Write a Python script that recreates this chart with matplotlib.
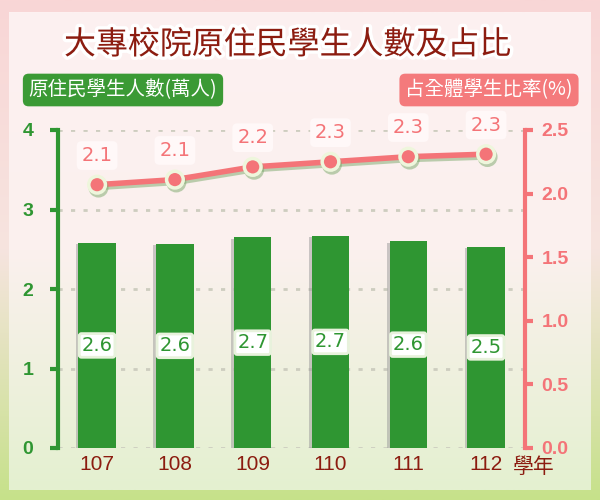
import numpy as np
import matplotlib
matplotlib.use("Agg")
import matplotlib.pyplot as plt
import matplotlib.patheffects as pe
from matplotlib.colors import LinearSegmentedColormap

plt.rcParams['font.family'] = ['Noto Sans CJK TC', 'DejaVu Sans']

years = ['107', '108', '109', '110', '111', '112']
students = [2.58, 2.57, 2.65, 2.67, 2.60, 2.53]   # 萬人
student_labels = ['2.6', '2.6', '2.7', '2.7', '2.6', '2.5']
ratio = [2.07, 2.11, 2.21, 2.25, 2.29, 2.31]      # %
ratio_labels = ['2.1', '2.1', '2.2', '2.3', '2.3', '2.3']

GREEN = '#2f9632'
PINK = '#f47478'
DARKRED = '#8c1c10'

fig = plt.figure(figsize=(6, 5), dpi=100)

# background: outer frame + inner panel, pink at top fading to green
bg = fig.add_axes([0, 0, 1, 1], zorder=-10)
bg.set_axis_off()
outer = LinearSegmentedColormap.from_list('o', ['#f9d6d6', '#f6e4df', '#c6e18a'])
inner = LinearSegmentedColormap.from_list('i', ['#fdf1f1', '#fbf0ee', '#e4f1d0'])
grad = np.linspace(0, 1, 256).reshape(-1, 1)
bg.imshow(grad, cmap=outer, aspect='auto', extent=[0, 1, 0, 1])
bg.imshow(grad, cmap=inner, aspect='auto', extent=[0.015, 0.985, 0.02, 0.975])
bg.set_xlim(0, 1)
bg.set_ylim(0, 1)

ax = fig.add_axes([0.097, 0.104, 0.778, 0.636])
ax.patch.set_alpha(0)
x = np.arange(len(years))

ax.bar(x, students, width=0.48, color=GREEN, zorder=3,
       path_effects=[pe.SimplePatchShadow(offset=(-2, -1), shadow_rgbFace='#9a9a9a', alpha=0.5), pe.Normal()])
for xi, v, lab in zip(x, students, student_labels):
    ax.text(xi, v / 2, lab, ha='center', va='center', fontsize=14, color=GREEN,
            family='DejaVu Sans', zorder=5,
            bbox=dict(boxstyle='round,pad=0.12', fc='white', ec='#e8f2dc', lw=2))

ax.set_xlim(-0.5, 5.5)
ax.set_ylim(0, 4)
ax.set_yticks([0, 1, 2, 3, 4])
ax.set_xticks(x)
ax.set_xticklabels(years, color=DARKRED, fontsize=15, family='Liberation Sans')
ax.tick_params(axis='x', length=0, pad=5)
ax.tick_params(axis='y', colors=GREEN, labelcolor=GREEN, width=3, length=6,
               labelsize=14, pad=12)
for t in ax.get_yticklabels():
    t.set_fontweight('bold')
    t.set_family('Liberation Sans')
ax.grid(axis='y', color='#cdcdbf', linestyle=(0, (1.5, 3)), lw=2, zorder=0)
for s in ['top', 'right', 'bottom']:
    ax.spines[s].set_visible(False)
ax.spines['left'].set_color(GREEN)
ax.spines['left'].set_linewidth(3)

ax2 = ax.twinx()
ax2.set_ylim(0, 2.5)
ax2.set_yticks([0, 0.5, 1.0, 1.5, 2.0, 2.5])
ax2.set_yticklabels(['0.0', '0.5', '1.0', '1.5', '2.0', '2.5'])
ax2.tick_params(axis='y', colors=PINK, labelcolor=PINK, width=3, length=6,
                labelsize=14, pad=6)
for t in ax2.get_yticklabels():
    t.set_fontweight('bold')
    t.set_family('Liberation Sans')
for s in ['top', 'left', 'bottom']:
    ax2.spines[s].set_visible(False)
ax2.spines['right'].set_color(PINK)
ax2.spines['right'].set_linewidth(3)

ax2.plot(x, ratio, color=PINK, lw=4, marker='o', ms=12, mfc=PINK, mec='#eef6dc',
         mew=2.5, zorder=4,
         path_effects=[pe.SimpleLineShadow(offset=(1, -2), shadow_color='#7aa86a', alpha=0.5), pe.Normal()])
for xi, v, lab in zip(x, ratio, ratio_labels):
    ax2.annotate(lab, (xi, v), xytext=(0, 21), textcoords='offset points',
                 ha='center', va='center', fontsize=14, color=PINK, family='DejaVu Sans',
                 bbox=dict(boxstyle='round,pad=0.25', fc='#fff8f8', ec='none'))

fig.text(0.48, 0.91, '大專校院原住民學生人數及占比', ha='center', va='center',
         fontsize=23, color=DARKRED, fontweight='medium',
         path_effects=[pe.withStroke(linewidth=5, foreground='white')])
fig.text(0.205, 0.82, '原住民學生人數(萬人)', ha='center', va='center', fontsize=14,
         color='white', bbox=dict(boxstyle='round,pad=0.3', fc='#3b9a35', ec='none'))
fig.text(0.815, 0.82, '占全體學生比率(%)', ha='center', va='center', fontsize=14,
         color='white', bbox=dict(boxstyle='round,pad=0.3', fc='#f47a7c', ec='none'))
fig.text(0.855, 0.066, '學年', ha='left', va='center', fontsize=15, color=DARKRED)

fig.savefig('out.png', dpi=100)
